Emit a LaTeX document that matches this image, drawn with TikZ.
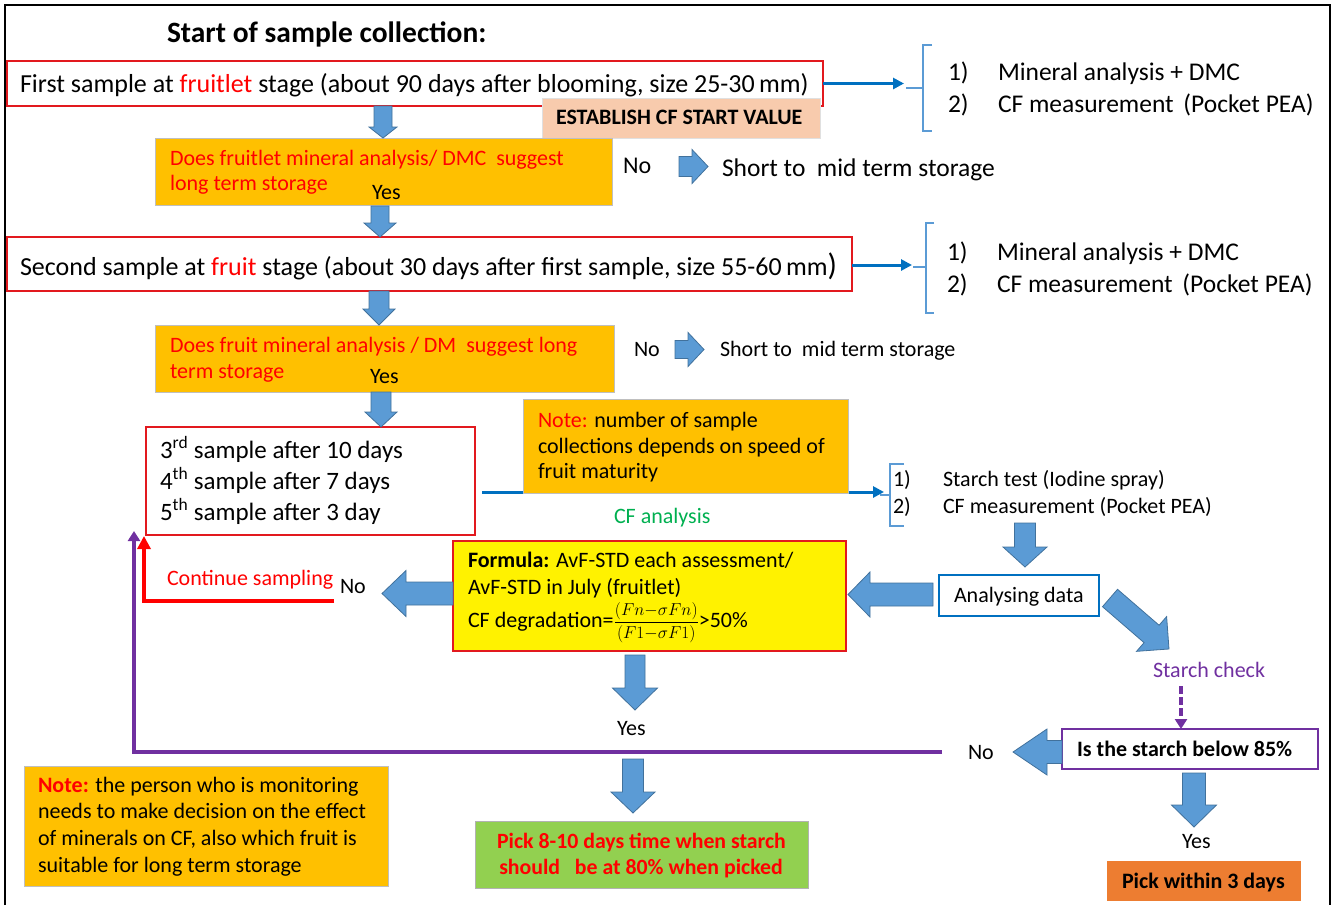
\documentclass[tikz,border=0pt]{standalone}
\usepackage{fontspec}
\setmainfont{Carlito}
\usetikzlibrary{arrows.meta,calc}
\definecolor{tred}{HTML}{FF0000}
\definecolor{boxred}{HTML}{E2191E}
\definecolor{gold}{HTML}{FFC000}
\definecolor{peach}{HTML}{F8CBAD}
\definecolor{lime}{HTML}{92D050}
\definecolor{dorange}{HTML}{ED7D31}
\definecolor{lblue}{HTML}{0070C0}
\definecolor{brblue}{HTML}{5B9BD5}
\definecolor{afill}{HTML}{5B9BD5}
\definecolor{aedge}{HTML}{41719C}
\definecolor{purp}{HTML}{7030A0}
\definecolor{cfgreen}{HTML}{00B050}
\tikzset{
  every node/.style={inner sep=0pt,outer sep=0pt},
  sz/.style 2 args={anchor=north west,minimum width=#1pt,minimum height=#2pt},
  redbox/.style={draw=boxred,line width=1.6pt,fill=white},
  goldbox/.style={draw=black!25,line width=0.8pt,fill=gold},
  peachbox/.style={draw=black!12,line width=0.8pt,fill=peach},
  yelbox/.style={draw=boxred,line width=1.6pt,fill=yellow},
  limebox/.style={draw=black!30,line width=0.8pt,fill=lime},
  orbox/.style={draw=none,fill=dorange},
  bluebox/.style={draw=lblue,line width=1.6pt,fill=white},
  purbox/.style={draw=purp,line width=1.4pt,fill=white},
  t/.style={anchor=base west,font=\fontsize{22}{26}\selectfont},
  tl/.style={anchor=base west,font=\fontsize{25.5}{30}\selectfont},
  tlb/.style={anchor=base west,font=\fontsize{26}{30}\selectfont},
  tbold/.style={anchor=base west,font=\fontsize{22}{26}\selectfont\bfseries},
  barrow/.style={fill=afill,draw=aedge,line width=0.8pt,line join=miter},
  bline/.style={draw=lblue,line width=3pt,-{Triangle[length=11pt,width=11pt]}},
  brk/.style={draw=brblue,line width=2.2pt},
  redl/.style={draw=tred,line width=4pt,-{Triangle[length=13pt,width=13pt]}},
  purl/.style={draw=purp,line width=4pt,-{Triangle[length=10pt,width=12pt]}},
}
% block arrow from named coordinate #1 to #2: shaft half width #3, head half width #4, head length #5
\newcommand{\blockarrow}[5]{%
  \filldraw[barrow] let \p1=(#1), \p2=(#2), \n1={atan2(\y2-\y1,\x2-\x1)}, \n2={veclen(\x2-\x1,\y2-\y1)} in
   [shift={(\p1)},rotate=\n1]
   (0,-#3) -- ({\n2-#5},-#3) -- ({\n2-#5},-#4) -- (\n2,0) -- ({\n2-#5},#4) -- ({\n2-#5},#3) -- (0,#3) -- cycle;}
\begin{document}
\begin{tikzpicture}[x=1pt,y=-1pt]
\useasboundingbox (0,0) rectangle (1336,905);
% frame
\draw[line width=2.5pt] (5,905) -- (5,5) -- (1330,5) -- (1330,905);

% ---------- boxes ----------
\node[redbox,sz={816}{45}] (b1) at (7,61) {};
\node[peachbox,sz={278}{40}] (est) at (542,98) {};
\node[goldbox,sz={457}{67}] (o1) at (155,138) {};
\node[redbox,sz={845}{54}] (b2) at (7,237) {};
\node[goldbox,sz={459}{67}] (o2) at (155,325) {};
\node[redbox,sz={329}{108}] (b3) at (146,427) {};

% blue line under note box
\coordinate (cfs) at (482,492);
\coordinate (br3t) at (884,492);
\draw[bline] (cfs) -- (br3t);
\node[goldbox,sz={325}{94}] (n1) at (523,399) {};

\node[yelbox,sz={393}{110}] (fm) at (453,541) {};
\node[bluebox,sz={160}{41}] (an) at (939,575) {};
\node[limebox,sz={333}{67}] (gr) at (475,821) {};
\node[goldbox,sz={364}{120}] (n2) at (24,766) {};
\node[purbox,sz={256}{40}] (sb) at (1062,729) {};
\node[orbox,sz={194}{40}] (pk) at (1107,861) {};

% ---------- brackets and thin arrows ----------
\coordinate (br1t) at (904,83.5);
\draw[bline] (b1.east) -- (br1t);
\draw[brk] (932,45) -- (923,45) -- (923,131) -- (932,131);
\draw[brk] (906,88) -- (923,88);

\coordinate (br2t) at (912,265);
\draw[bline] (b2.east |- br2t) -- (br2t);
\draw[brk] (934,223) -- (926,223) -- (926,313) -- (934,313);
\draw[brk] (913,267) -- (926,267);

\draw[brk] (904,464) -- (890,464) -- (890,526) -- (904,526);
\draw[brk] (880,495) -- (890,495);

% red loop
\coordinate (r0) at (334,601);
\coordinate (r1) at (144,536);
\draw[redl] (r0) -| (r1);
% purple loop
\coordinate (p0) at (942,752);
\coordinate (p1) at (134,531);
\draw[purl] (p0) -| (p1);
% dashed purple
\coordinate (sc1) at (1181,686);
\draw[purl,dash pattern=on 8pt off 3pt] (sc1) -- (sb.north -| sc1);

% ---------- block arrows ----------
\coordinate (a1s) at (383,106);   \coordinate (a1e) at (383,138);
\coordinate (a2s) at (380,206);   \coordinate (a2e) at (380,237);
\coordinate (a3s) at (379,291);   \coordinate (a3e) at (379,325);
\coordinate (a4s) at (381,392);   \coordinate (a4e) at (381,427);
\coordinate (r1s) at (679,166.5); \coordinate (r1e) at (708,166.5);
\coordinate (r2s) at (675,349.5); \coordinate (r2e) at (704,349.5);
\coordinate (d1s) at (1025,523);  \coordinate (d1e) at (1025,567);
\coordinate (l1s) at (933,594.5); \coordinate (l1e) at (848,594.5);
\coordinate (l2s) at (453,593.5); \coordinate (l2e) at (382,593.5);
\coordinate (d2s) at (635,655);   \coordinate (d2e) at (635,710);
\coordinate (d3s) at (633,759);   \coordinate (d3e) at (633,813);
\coordinate (dgs) at (1110,598);  \coordinate (dge) at (1169,649);
\coordinate (l3s) at (1062,752);  \coordinate (l3e) at (1013,752);
\coordinate (d4s) at (1194,773);  \coordinate (d4e) at (1194,827);
\blockarrow{a1s}{a1e}{9}{14}{11}
\blockarrow{a2s}{a2e}{9}{16}{14}
\blockarrow{a3s}{a3e}{10}{16}{16}
\blockarrow{a4s}{a4e}{10}{16}{15}
\blockarrow{r1s}{r1e}{10}{17}{16}
\blockarrow{r2s}{r2e}{9}{17}{16}
\blockarrow{d1s}{d1e}{10.5}{22}{20}
\blockarrow{l1s}{l1e}{11.5}{22.5}{22}
\blockarrow{l2s}{l2e}{11.5}{23}{24}
\blockarrow{d2s}{d2e}{10}{22.5}{22}
\blockarrow{d3s}{d3e}{10.5}{22}{21}
\blockarrow{dgs}{dge}{11.5}{23}{23}
\blockarrow{l3s}{l3e}{11.5}{23}{34}
\blockarrow{d4s}{d4e}{11.5}{22.5}{22}

% ---------- texts ----------
\node[anchor=base west,font=\fontsize{29.5}{34}\selectfont\bfseries] (title) at (167,42) {Start of sample collection:};
\node[tlb] (t1) at (20,92) {First sample at \textcolor{tred}{fruitlet} stage (about 90 days after blooming, size 25-30\,mm)};
\node[anchor=base west,font=\fontsize{22}{26}\selectfont\bfseries] (estt) at (556,124) {ESTABLISH CF START VALUE};
\node[tl] (m1a) at (948,80) {1)};
\node[tl] (m1b) at (998,80) {Mineral analysis + DMC};
\node[tl] (m1c) at (948,112) {2)};
\node[tl] (m1d) at (998,112) {CF measurement\hspace{4pt} (Pocket PEA)};

\node[t,text=tred] (o1a) at (170,165) {Does fruitlet mineral analysis/ DMC\ \ suggest};
\node[t,text=tred] (o1b) at (170,190) {long term storage};
\node[t] (y1) at (372,199) {Yes};
\node[t,font=\fontsize{24}{28}\selectfont] (no1) at (623,173) {No};
\node[tl] (s1) at (722,176) {Short to\ \ mid term storage};

\node[tlb] (t2) at (20,275) {Second sample at \textcolor{tred}{fruit} stage (about 30 days after first sample, size 55-60\,mm{\fontsize{31}{31}\selectfont)}};
\node[tl] (m2a) at (947,260) {1)};
\node[tl] (m2b) at (997,260) {Mineral analysis + DMC};
\node[tl] (m2c) at (947,292) {2)};
\node[tl] (m2d) at (997,292) {CF measurement\hspace{4pt} (Pocket PEA)};

\node[t,text=tred] (o2a) at (170,352) {Does fruit mineral analysis / DM\ \ suggest long};
\node[t,text=tred] (o2b) at (170,378) {term storage};
\node[t] (y2) at (370,383) {Yes};
\node[t] (no2) at (634,356) {No};
\node[t] (s2) at (720,356) {Short to\ \ mid term storage};

\node[t,font=\fontsize{25}{29}\selectfont] (s3) at (160,458) {3\textsuperscript{rd} sample after 10 days};
\node[t,font=\fontsize{25}{29}\selectfont] (s4) at (160,489) {4\textsuperscript{th} sample after 7 days};
\node[t,font=\fontsize{25}{29}\selectfont] (s5) at (160,520) {5\textsuperscript{th} sample after 3 day};

\node[t] (n1a) at (538,427) {\textcolor{tred}{Note:} number of sample};
\node[t] (n1b) at (538,453) {collections depends on speed of};
\node[t] (n1c) at (538,478) {fruit maturity};
\node[t,text=cfgreen] (cfa) at (614,523) {CF analysis};

\node[t] (m3a) at (893,486) {1)};
\node[t] (m3b) at (943,486) {Starch test (Iodine spray)};
\node[t] (m3c) at (893,513) {2)};
\node[t] (m3d) at (943,513) {CF measurement (Pocket PEA)};

\node[t] (ant) at (954,602) {Analysing data};

\node[t] (fm1) at (468,567) {\textbf{Formula:} AvF-STD each assessment/};
\node[t] (fm2) at (468,594) {AvF-STD in July (fruitlet)};
\node[t] (fm3) at (468,627) {CF degradation={\fontsize{16.5}{18}\selectfont$\displaystyle\frac{(Fn{-}\sigma Fn)}{(F1{-}\sigma F1)}$}>50\%};

\node[t,text=tred] (cs) at (167,585) {Continue sampling};
\node[t] (no3) at (340,593) {No};
\node[t] (y3) at (617,735) {Yes};

\node[anchor=base,font=\fontsize{21.8}{25}\selectfont\bfseries,text=tred] (g1) at (641.5,848) {Pick 8-10 days time when starch};
\node[anchor=base,font=\fontsize{21.8}{25}\selectfont\bfseries,text=tred] (g2) at (641,874) {should\ \ \ be at 80\% when picked};

\node[t] (n2a) at (38,792) {\textcolor{tred}{\textbf{Note:}} the person who is monitoring};
\node[t] (n2b) at (38,818) {needs to make decision on the effect};
\node[t] (n2c) at (38,845) {of minerals on CF, also which fruit is};
\node[t] (n2d) at (38,872) {suitable for long term storage};

\node[t,text=purp] (sct) at (1153,677) {Starch check};
\node[tbold] (sbt) at (1077,756) {Is the starch below 85\%};
\node[t] (no4) at (968,759) {No};
\node[t] (y4) at (1182,848) {Yes};
\node[tbold] (pkt) at (1122,888) {Pick within 3 days};
\end{tikzpicture}
\end{document}
